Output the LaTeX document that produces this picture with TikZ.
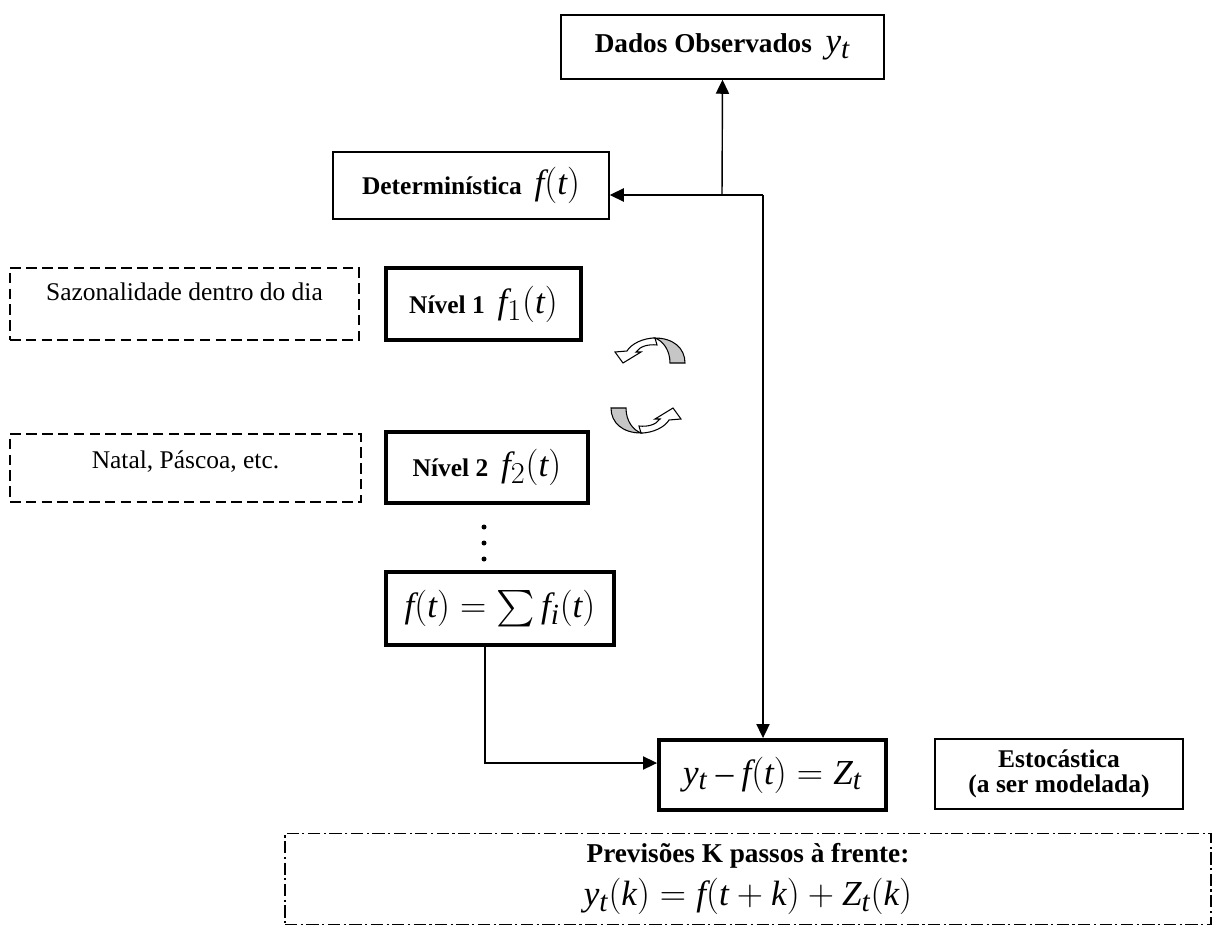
\documentclass[tikz,border=0pt]{standalone}
\usepackage{amsmath}
\usepackage{fontspec}
\setmainfont{Liberation Serif}
\usepackage[italic]{mathastext}
\usetikzlibrary{arrows.meta}
\newcommand\mth[1]{{\fontsize{20}{24}\selectfont$#1$}}
\tikzset{>/.tip={Triangle[length=8pt,width=7.5pt]},
  box/.style={draw,line width=0.8pt,inner sep=0pt,align=center,font=\fontsize{14.5}{17}\selectfont},
  thickbox/.style={box,line width=2.2pt},
  dashbox/.style={box,dash pattern=on 6pt off 3pt},
  dotbox/.style={box,dash pattern=on 7pt off 2pt on 1.2pt off 2pt},
  wire/.style={line width=0.8pt},
  turn/.pic={
    \filldraw[fill=white,line width=0.6pt] (6,-12) .. controls (-6,-12) and (-18,-6) .. (-22,1)
      -- (-34,2) -- (-26,13) -- (-8,2) -- (-13,2) .. controls (-9,-4) and (0,-6) .. (8,-5) -- cycle;
    \filldraw[fill=gray!45,line width=0.6pt] (36,13) -- (21,13) .. controls (21,0) and (14,-9) .. (6,-12)
      .. controls (24,-12) and (36,-2) .. (36,13) -- cycle;
  }}

\begin{document}
\begin{tikzpicture}[x=0.02cm,y=-0.02cm]
\useasboundingbox (0,0) rectangle (1213,926);
% blocos principais
\node[box,minimum width=323*0.02cm,minimum height=64*0.02cm,font=\fontsize{15.5}{18}\selectfont] (dados) at (722.5,47)
  {\textbf{Dados Observados}\ \ \mth{y_t}};
\node[box,minimum width=276*0.02cm,minimum height=67*0.02cm] (det) at (471,185.5)
  {\textbf{Determinística}\ \ \mth{f(t)}};
\node[dashbox,minimum width=349*0.02cm,minimum height=72*0.02cm,text height=0.35cm,text depth=0.5cm] (saz) at (184.5,304)
  {Sazonalidade dentro do dia};
\node[thickbox,minimum width=195*0.02cm,minimum height=72*0.02cm] (niv1) at (483.5,304)
  {\textbf{Nível 1}\ \ \mth{f_1(t)}};
\node[dashbox,minimum width=351*0.02cm,minimum height=68*0.02cm,text height=0.35cm,text depth=0.35cm] (natal) at (185.5,468)
  {Natal, Páscoa, etc.};
\node[thickbox,minimum width=202*0.02cm,minimum height=71*0.02cm] (niv2) at (487,467.5)
  {\textbf{Nível 2}\ \ \mth{f_2(t)}};
\node[thickbox,minimum width=228*0.02cm,minimum height=73*0.02cm] (soma) at (500,608.5)
  {\mth{f(t)=\sum f_i(t)}};
\node[thickbox,minimum width=227*0.02cm,minimum height=70*0.02cm] (res) at (772.5,775)
  {\mth{y_t-f(t)=Z_t}};
\node[box,minimum width=248*0.02cm,minimum height=70*0.02cm] (est) at (1059,774)
  {\textbf{Estocástica}\\[-3pt]\textbf{(a ser modelada)}};
\node[dotbox,minimum width=926*0.02cm,minimum height=91*0.02cm] (prev) at (748,879)
  {\textbf{\fontsize{15.5}{18}\selectfont Previsões K passos à frente:}\\[5pt]\mth{y_t(k)=f(t+k)+Z_t(k)}};
% reticencias
\foreach \y in {527,543,559}
  \fill (484,\y) circle[radius=0.05cm];
% setas curvas
\pic at (649,350) {turn};
\pic[rotate=180] at (647,421) {turn};
% ligacoes
\coordinate (jl) at (722,195);
\coordinate (jr) at (763,195);
\coordinate (dobra) at (485,763);
\draw[wire,->] (jl) -- (dados.south);
\draw[wire,->] (jr) -- (jr -| det.east);
\draw[wire,->] (jr) -- (jr |- res.north);
\draw[wire,->] (dobra |- soma.south) -- (dobra) -- (dobra -| res.west);
\end{tikzpicture}
\end{document}
